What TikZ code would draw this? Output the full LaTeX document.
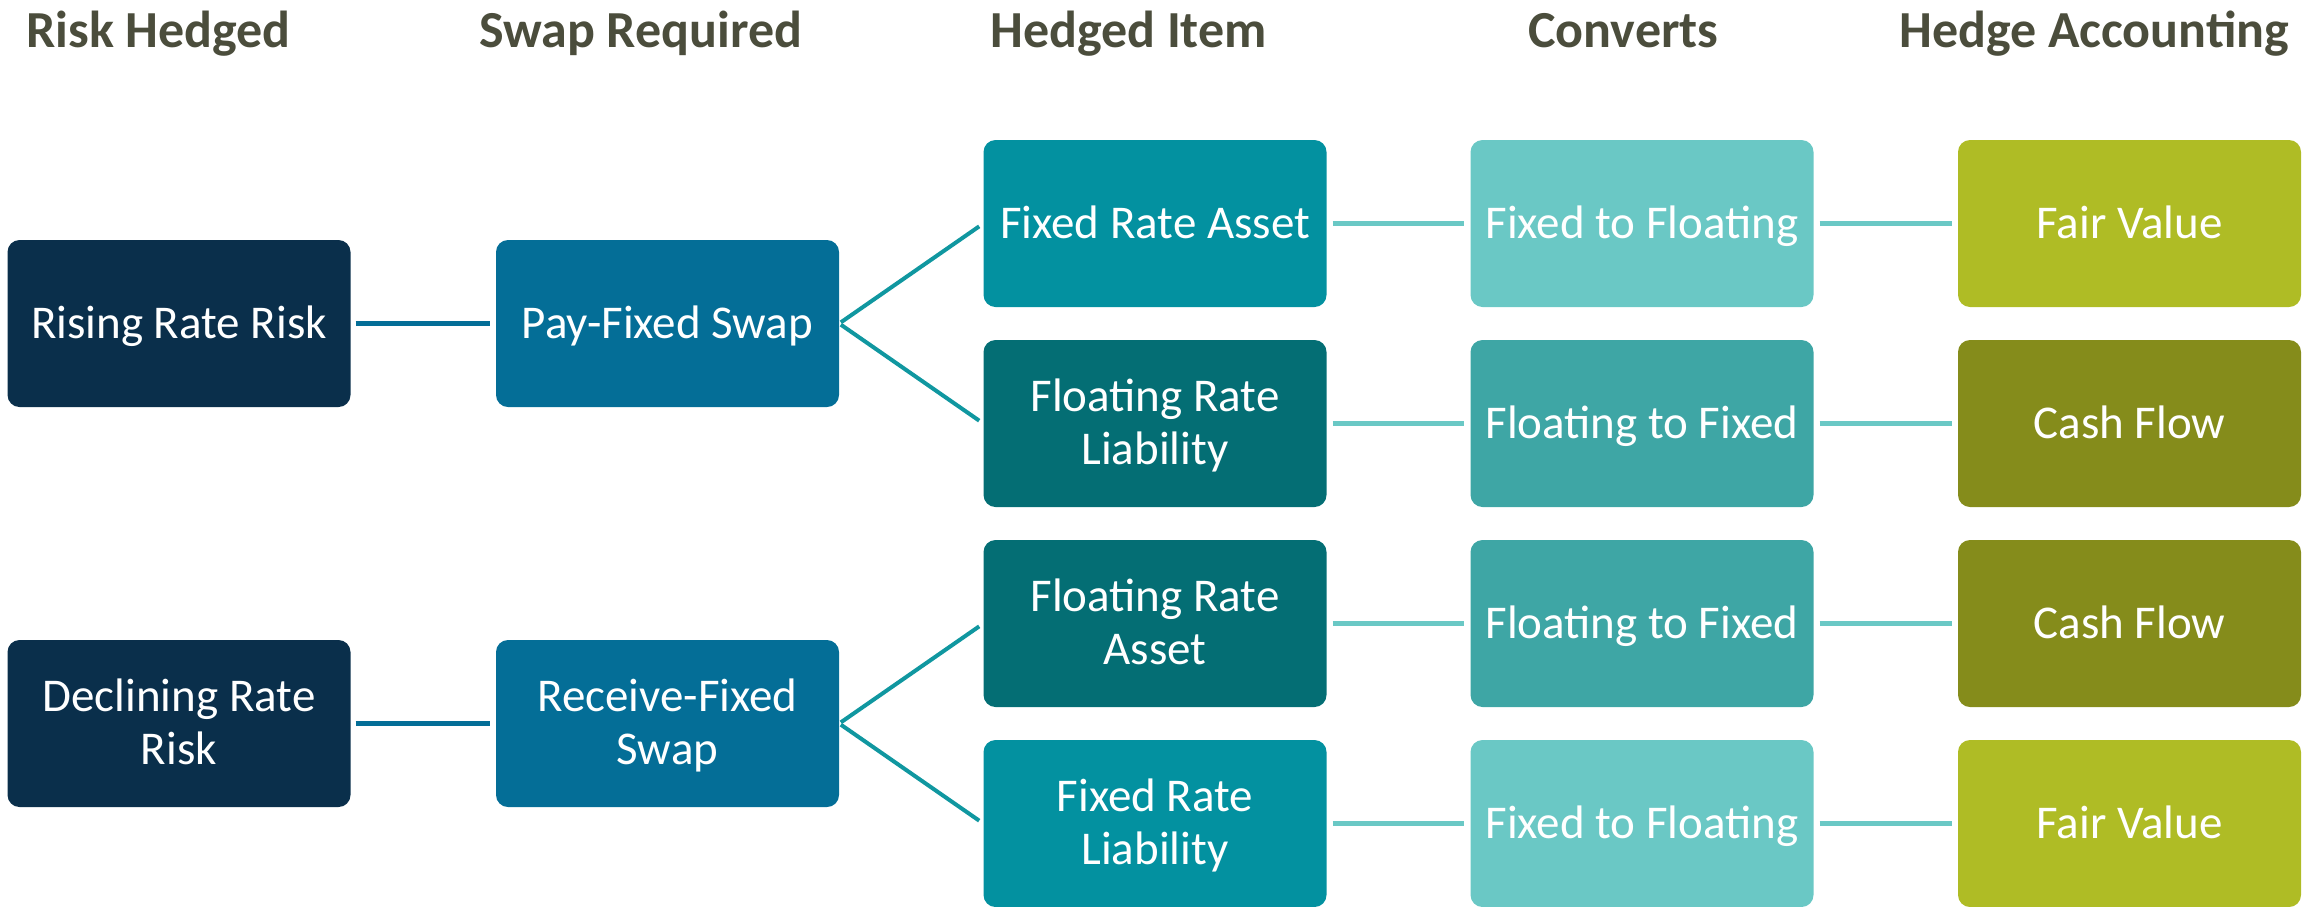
\documentclass[tikz,border=0pt]{standalone}
\usepackage{fontspec}
\setmainfont{Carlito}
\definecolor{cnavy}{HTML}{0A2F4B}
\definecolor{cblue}{HTML}{046E97}
\definecolor{cteal}{HTML}{0391A0}
\definecolor{cdteal}{HTML}{046E74}
\definecolor{clteal}{HTML}{6AC8C5}
\definecolor{cmteal}{HTML}{3EA6A5}
\definecolor{cgreen}{HTML}{AFBC25}
\definecolor{colive}{HTML}{858C1B}
\definecolor{ctitle}{HTML}{4B4D3C}
\definecolor{cfork}{HTML}{1097A0}
\newcommand\ms{\rule[-0.25em]{0pt}{1.12em}}
\tikzset{
  boxbase/.style={rectangle, rounded corners=12pt, minimum width=343pt, minimum height=167pt,
    inner sep=0pt, align=center, text=white, font=\fontsize{47}{52}\selectfont},
  navybox/.style={boxbase, fill=cnavy},
  bluebox/.style={boxbase, fill=cblue},
  tealbox/.style={boxbase, fill=cteal},
  dtealbox/.style={boxbase, fill=cdteal},
  ltealbox/.style={boxbase, fill=clteal},
  mtealbox/.style={boxbase, fill=cmteal},
  greenbox/.style={boxbase, fill=cgreen},
  olivebox/.style={boxbase, fill=colive},
  coltitle/.style={anchor=base west, inner sep=0pt, text=ctitle, font=\fontsize{52}{60}\selectfont\bfseries},
  linkA/.style={draw=cblue, line width=5pt, shorten <=5pt, shorten >=6pt},
  linkB/.style={draw=clteal, line width=5pt, shorten <=6pt, shorten >=6pt},
  forkline/.style={draw=cfork, line width=4pt, shorten <=2pt, shorten >=5pt}
}
\begin{document}
\begin{tikzpicture}[x=1pt,y=1pt]
\useasboundingbox (0,0) rectangle (2323,-906);
% titles
\node[coltitle] (t1) at (26,-47) {Risk Hedged};
\node[coltitle] (t2) at (479,-47) {Swap Required};
\node[coltitle] (t3) at (990,-47) {Hedged Item};
\node[coltitle] (t4) at (1528,-47) {Converts};
\node[coltitle] (t5) at (1899,-47) {Hedge Accounting};
% column 1
\node[navybox] (r1) at (179,-323.5) {\ms Rising Rate Risk};
\node[navybox] (r2) at (179,-723.5) {\ms Declining Rate\\\ms Risk};
% column 2
\node[bluebox] (s1) at (667.5,-323.5) {\ms Pay-Fixed Swap};
\node[bluebox] (s2) at (667.5,-723.5) {\ms Receive-Fixed\\\ms Swap};
% column 3
\node[tealbox] (h1) at (1155,-223.5) {\ms Fixed Rate Asset};
\node[dtealbox] (h2) at (1155,-423.5) {\ms Floating Rate\\\ms Liability};
\node[dtealbox] (h3) at (1155,-623.5) {\ms Floating Rate\\\ms Asset};
\node[tealbox] (h4) at (1155,-823.5) {\ms Fixed Rate\\\ms Liability};
% column 4
\node[ltealbox] (c1) at (1642,-223.5) {\ms Fixed to Floating};
\node[mtealbox] (c2) at (1642,-423.5) {\ms Floating to Fixed};
\node[mtealbox] (c3) at (1642,-623.5) {\ms Floating to Fixed};
\node[ltealbox] (c4) at (1642,-823.5) {\ms Fixed to Floating};
% column 5
\node[greenbox] (a1) at (2129.5,-223.5) {\ms Fair Value};
\node[olivebox] (a2) at (2129.5,-423.5) {\ms Cash Flow};
\node[olivebox] (a3) at (2129.5,-623.5) {\ms Cash Flow};
\node[greenbox] (a4) at (2129.5,-823.5) {\ms Fair Value};
% connectors
\draw[linkA] (r1.east) -- (s1.west);
\draw[linkA] (r2.east) -- (s2.west);
\draw[forkline] (s1.east) -- (h1.west);
\draw[forkline] (s1.east) -- (h2.west);
\draw[forkline] (s2.east) -- (h3.west);
\draw[forkline] (s2.east) -- (h4.west);
\draw[linkB] (h1.east) -- (c1.west);
\draw[linkB] (h2.east) -- (c2.west);
\draw[linkB] (h3.east) -- (c3.west);
\draw[linkB] (h4.east) -- (c4.west);
\draw[linkB] (c1.east) -- (a1.west);
\draw[linkB] (c2.east) -- (a2.west);
\draw[linkB] (c3.east) -- (a3.west);
\draw[linkB] (c4.east) -- (a4.west);
\end{tikzpicture}
\end{document}
